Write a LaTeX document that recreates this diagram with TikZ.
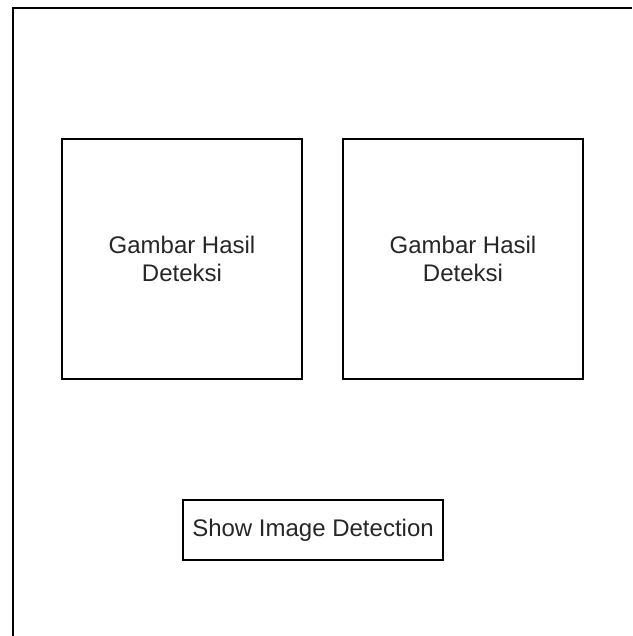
\documentclass[tikz,border=0pt]{standalone}
\usepackage{fontspec}
\setmainfont{Liberation Sans}
\usetikzlibrary{positioning}

\begin{document}
\begin{tikzpicture}[x=0.5pt, y=-0.5pt,
    panel/.style={draw, line width=1pt, minimum width=120pt, minimum height=120pt, align=center, inner sep=0pt, font=\fontsize{12}{14}\selectfont, text=black!85},
    button/.style={draw, line width=1pt, minimum width=130pt, minimum height=30pt, inner sep=0pt, font=\fontsize{12}{14}\selectfont, text=black!85}]
    \useasboundingbox (0,0) rectangle (632,636);

    % Window frame
    \draw[line width=1pt] (12.5,636) -- (12.5,8.5) -- (632,8.5);

    % Result images
    \node[panel] (hasilA) at (182,259) {Gambar Hasil\\Deteksi};
    \node[panel, right=19.5pt of hasilA] (hasilB) {Gambar Hasil\\Deteksi};

    % Button
    \node[button] (show) at (313,530) {Show Image Detection};
\end{tikzpicture}
\end{document}
